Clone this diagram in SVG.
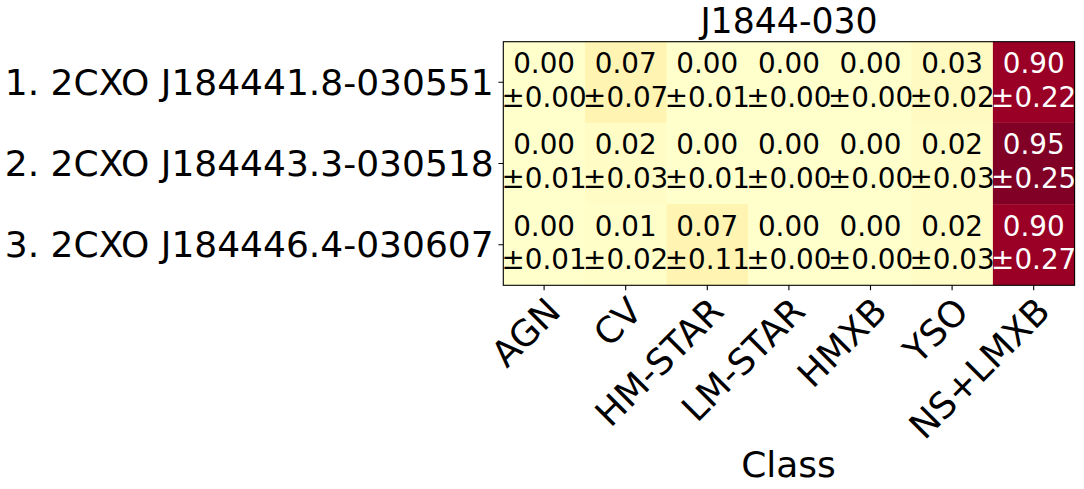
<svg xmlns="http://www.w3.org/2000/svg" width="1084" height="489" viewBox="0 0 1084 489">
<style>
text{font-family:"DejaVu Sans","Liberation Sans",sans-serif;fill:#000}
.cell{font-size:27.8px;text-anchor:middle}
.w{fill:#fff}
.ylab{font-size:36px;text-anchor:end}
.xlab{font-size:36px;text-anchor:end}
.title{font-size:34.7px;text-anchor:middle}
.axl{font-size:36px;text-anchor:middle}
.tick{stroke:#000;stroke-width:1.1}
</style>
<rect width="1084" height="489" fill="#fff"/>
<g id="heatmap">
<rect x="503.3" y="41.7" width="571.3" height="243.6" fill="#ffffcc"/>
<rect x="584.9" y="41.7" width="81.6" height="81.2" fill="#fff4b2"/>
<rect x="911.3" y="41.7" width="81.6" height="81.2" fill="#fffac1"/>
<rect x="992.9" y="41.7" width="81.7" height="81.2" fill="#9a0026"/>
<rect x="584.9" y="122.9" width="81.6" height="81.2" fill="#fffcc5"/>
<rect x="911.3" y="122.9" width="81.6" height="81.2" fill="#fffcc5"/>
<rect x="992.9" y="122.9" width="81.7" height="81.2" fill="#800026"/>
<rect x="584.9" y="204.1" width="81.6" height="81.2" fill="#fffec8"/>
<rect x="666.5" y="204.1" width="81.6" height="81.2" fill="#fff4b2"/>
<rect x="911.3" y="204.1" width="81.6" height="81.2" fill="#fffcc5"/>
<rect x="992.9" y="204.1" width="81.7" height="81.2" fill="#9a0026"/>
</g>
<g id="cell-labels">
<text class="cell" x="544.1" y="73.1">0.00<tspan x="544.1" y="106.5">±0.00</tspan></text>
<text class="cell" x="625.7" y="73.1">0.07<tspan x="625.7" y="106.5">±0.07</tspan></text>
<text class="cell" x="707.3" y="73.1">0.00<tspan x="707.3" y="106.5">±0.01</tspan></text>
<text class="cell" x="788.9" y="73.1">0.00<tspan x="788.9" y="106.5">±0.00</tspan></text>
<text class="cell" x="870.5" y="73.1">0.00<tspan x="870.5" y="106.5">±0.00</tspan></text>
<text class="cell" x="952.1" y="73.1">0.03<tspan x="952.1" y="106.5">±0.02</tspan></text>
<text class="cell w" x="1033.7" y="73.1">0.90<tspan x="1033.7" y="106.5">±0.22</tspan></text>

<text class="cell" x="544.1" y="154.3">0.00<tspan x="544.1" y="187.7">±0.01</tspan></text>
<text class="cell" x="625.7" y="154.3">0.02<tspan x="625.7" y="187.7">±0.03</tspan></text>
<text class="cell" x="707.3" y="154.3">0.00<tspan x="707.3" y="187.7">±0.01</tspan></text>
<text class="cell" x="788.9" y="154.3">0.00<tspan x="788.9" y="187.7">±0.00</tspan></text>
<text class="cell" x="870.5" y="154.3">0.00<tspan x="870.5" y="187.7">±0.00</tspan></text>
<text class="cell" x="952.1" y="154.3">0.02<tspan x="952.1" y="187.7">±0.03</tspan></text>
<text class="cell w" x="1033.7" y="154.3">0.95<tspan x="1033.7" y="187.7">±0.25</tspan></text>

<text class="cell" x="544.1" y="235.5">0.00<tspan x="544.1" y="268.9">±0.01</tspan></text>
<text class="cell" x="625.7" y="235.5">0.01<tspan x="625.7" y="268.9">±0.02</tspan></text>
<text class="cell" x="707.3" y="235.5">0.07<tspan x="707.3" y="268.9">±0.11</tspan></text>
<text class="cell" x="788.9" y="235.5">0.00<tspan x="788.9" y="268.9">±0.00</tspan></text>
<text class="cell" x="870.5" y="235.5">0.00<tspan x="870.5" y="268.9">±0.00</tspan></text>
<text class="cell" x="952.1" y="235.5">0.02<tspan x="952.1" y="268.9">±0.03</tspan></text>
<text class="cell w" x="1033.7" y="235.5">0.90<tspan x="1033.7" y="268.9">±0.27</tspan></text>
</g>
<g id="axes">
<rect x="503.3" y="41.7" width="571.3" height="243.6" fill="none" stroke="#000" stroke-width="1.1"/>
<path class="tick" d="M498.4 82.3H503.3M498.4 163.5H503.3M498.4 244.7H503.3M544.1 285.3V290.2M625.7 285.3V290.2M707.3 285.3V290.2M788.9 285.3V290.2M870.5 285.3V290.2M952.1 285.3V290.2M1033.7 285.3V290.2"/>
</g>
<g id="y-labels">
<text class="ylab" x="493.6" y="95">1. 2CXO J184441.8-030551</text>
<text class="ylab" x="493.6" y="176.2">2. 2CXO J184443.3-030518</text>
<text class="ylab" x="493.6" y="257.4">3. 2CXO J184446.4-030607</text>
</g>
<g id="x-labels">
<text class="xlab" transform="translate(544.1 295) rotate(-45)" y="26">AGN</text>
<text class="xlab" transform="translate(625.7 295) rotate(-45)" y="26">CV</text>
<text class="xlab" transform="translate(707.3 295) rotate(-45)" y="26">HM-STAR</text>
<text class="xlab" transform="translate(788.9 295) rotate(-45)" y="26">LM-STAR</text>
<text class="xlab" transform="translate(870.5 295) rotate(-45)" y="26">HMXB</text>
<text class="xlab" transform="translate(952.1 295) rotate(-45)" y="26">YSO</text>
<text class="xlab" transform="translate(1033.7 295) rotate(-45)" y="26">NS+LMXB</text>
</g>
<text class="title" x="789" y="33.4">J1844-030</text>
<text class="axl" x="788.5" y="476.7">Class</text>
</svg>
